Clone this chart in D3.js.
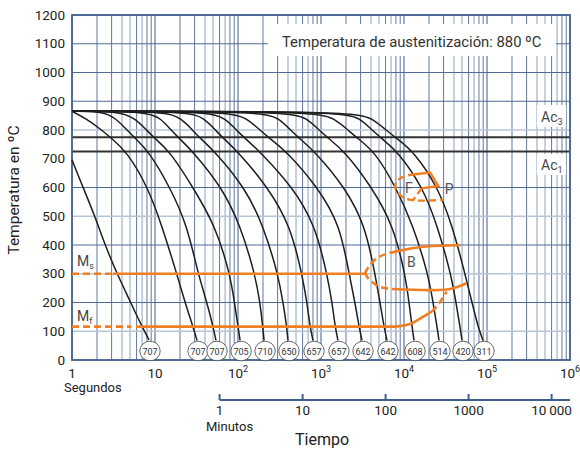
<!DOCTYPE html>
<html><head><meta charset="utf-8">
<script src="https://cdn.jsdelivr.net/npm/d3@7"></script>
<style>
body{margin:0;background:#fff}
svg{display:block}
text{font-family:Roboto,'Noto Sans',sans-serif;fill:#222}
</style>
</head><body>
<svg id="chart" width="580" height="450"></svg>
<script>
// ---------- data ----------
const yTickValues = [0,100,200,300,400,500,600,700,800,900,1000,1100,1200];
const yGridDark = [200,400,600,900,1000,1100];
const yGridLight = [100,300,500,800];
const xDecades = [1,10,100,1000,10000,100000,1000000];
const xDecadeLabels = ["1","10","10|2","10|3","10|4","10|5","10|6"];
const minuteTicks = [1,10,100,1000,10000];
const minuteLabels = ["1","10","100","1000","10\u2009000"];
const Ac3 = 775, Ac1 = 725, Ms = 300, Mf = 116;
const hardness = ["707","707","707","705","710","650","657","657","642","642","608","514","420","311"];

// first curve (already below 865 at 1 s)
const curve0Temps = [696,626,500,400,300,220,116,70];
const curve0Times = [1,1.25,1.89,2.5,3.49,4.73,6.97,8.47];

// remaining curves, all from 865 ºC, temps shared
const coolTemps = [865,840,800,775,725,600,470,300,200,116,68];
const coolTimes = [
  [1,1.47,2.28,2.87,4.6,8.24,12.0,18.3,23.0,28.7,32.1],
  [2.36,3.39,4.6,5.59,8.47,15.2,24.3,33.0,42.3,50.0,54.3],
  [3.79,5.74,7.9,9.59,15.2,28.7,52.8,80.1,90.7,100,106],
  [8.01,11.8,15.6,18.9,28.7,64.2,106,160,184,199,206],
  [13.9,20.6,28.3,33.9,52.8,121,200,303,349,386,400],
  [26.4,38.9,53.6,64.2,100,230,423,590,678,737,801],
  [46,69.7,95.9,117,184,460,847,1180,1360,1480,1600],
  [80.1,128,184,230,389,920,1690,2180,2570,2870,3120],
  [200,312,429,528,847,1950,3390,4470,5140,5740,6240],
  [423,678,946,1180,1950,4120,7370,10300,11500,12500,13200],
  [895,1430,2120,2640,4470,8010,12800,19500,22400,25000,26400],
  [1840,2950,4120,5140,8470,16900,25000,36800,42300,47300,50000],
  [2570,4120,6070,7790,13200,25700,37900,54300,66000,77900,89500]
];

// Martensite lines
const msDashTimes = [1,3.1], msSolidTimes = [3.1,3390];
const mfDashTimes = [1,5.2], mfSolidTimes = [5.9,7790];
const mfRiseTimes = [7790,11800,17100,21600], mfRiseTemps = [116,125,151,168];
const mfRiseDashTimes = [21600,27200,32700], mfRiseDashTemps = [168,202,238];
// Bainite region
const bUpperDashTimes = [3390,3680,4690,6780], bUpperDashTemps = [302,320,354,373];
const bUpperTimes = [6780,10300,17100,47300], bUpperTemps = [373,384,394,399];
const bLowerDashTimes = [3390,3680,4470,5430,7170], bLowerDashTemps = [302,285,264,252,247];
const bLowerTimes = [7170,20600,35800,56900], bLowerTemps = [247,243,247,267];
// Ferrite / pearlite region
const fSolidTimes = [13600,20600,25900,16300], fSolidTemps = [646,652,605,597];
const fInnerDashTimes = [16300,12900], fInnerDashTemps = [597,556];
const fOuterTimes = [13600,10300,8470,7790,8470,10300,13600,20600,29500], fOuterTemps = [646,640,626,605,581,562,555,555,557];

// ---------- drawing ----------
const svg = d3.select("#chart");
const L = 72, R = 570, T = 15, B = 360;
const x = d3.scaleLog().domain([1,1e6]).range([L,R]);
const y = d3.scaleLinear().domain([0,1200]).range([B,T]);
const gridDark = "#4f6a93", gridLight = "#b7c6d6", orange = "#ef7f22";

const g = svg.append("g");
// vertical grid
const minor = [];
for (let d = 0; d < 6; d++) for (let k = 2; k <= 9; k++) minor.push({v:k*Math.pow(10,d), k});
const lightK = new Set([4,5,7]);
g.selectAll(".vm").data(minor).join("line")
  .attr("x1",d=>x(d.v)).attr("x2",d=>x(d.v)).attr("y1",T).attr("y2",B)
  .attr("stroke",d=>lightK.has(d.k)?gridLight:gridDark)
  .attr("stroke-width",d=>lightK.has(d.k)?1.6:0.9);
g.selectAll(".vM").data(xDecades.slice(1,-1)).join("line")
  .attr("x1",d=>x(d)).attr("x2",d=>x(d)).attr("y1",T).attr("y2",B)
  .attr("stroke",gridDark).attr("stroke-width",1.1);
// horizontal grid
g.selectAll(".hl").data(yGridLight).join("line")
  .attr("x1",L).attr("x2",R).attr("y1",d=>y(d)).attr("y2",d=>y(d))
  .attr("stroke",gridLight).attr("stroke-width",1.6);
g.selectAll(".hd").data(yGridDark).join("line")
  .attr("x1",L).attr("x2",R).attr("y1",d=>y(d)).attr("y2",d=>y(d))
  .attr("stroke",gridDark).attr("stroke-width",1);

// white boxes (title and Ac labels)
svg.append("rect").attr("x",268).attr("y",24).attr("width",288).attr("height",32).attr("fill","#fff");
svg.append("rect").attr("x",537).attr("y",105).attr("width",29).attr("height",22).attr("fill","#fff");
svg.append("rect").attr("x",537).attr("y",154).attr("width",29).attr("height",21).attr("fill","#fff");

// Ac lines
[Ac3,Ac1].forEach(v=>svg.append("line").attr("x1",L).attr("x2",R).attr("y1",y(v)).attr("y2",y(v))
  .attr("stroke","#333").attr("stroke-width",2));

// frame
svg.append("rect").attr("x",L).attr("y",T).attr("width",R-L).attr("height",B-T)
  .attr("fill","none").attr("stroke","#3f5e8c").attr("stroke-width",1.8);

const line = d3.line().x(d=>x(d[0])).y(d=>y(d[1])).curve(d3.curveMonotoneX);
const lineB = d3.line().x(d=>x(d[0])).y(d=>y(d[1])).curve(d3.curveBasis);
const zip = (a,b)=>a.map((v,i)=>[v,b[i]]);

// cooling curves
const curves = [zip(curve0Times,curve0Temps)];
coolTimes.forEach(ts=>{
  const pts = zip(ts,coolTemps);
  if (ts[0] > 1) { pts.unshift([1,865]); pts.unshift([1,865]); }
  curves.push(pts);
});
svg.append("g").selectAll("path").data(curves).join("path")
  .attr("d",d=>{ const p=d.slice(); p.push(p[p.length-1]); return lineB(p); })
  .attr("fill","none").attr("stroke","#1e1e1e").attr("stroke-width",1.5);

// orange transformation lines
const og = svg.append("g").attr("fill","none").attr("stroke",orange);
function oPath(pts,dashed,w){
  og.append("path").attr("d",line(pts)).attr("stroke-width",w||2.6)
    .attr("stroke-dasharray",dashed?"7,4":null);
}
oPath(msDashTimes.map(t=>[t,Ms]),true);
oPath(msSolidTimes.map(t=>[t,Ms]),false);
oPath(mfDashTimes.map(t=>[t,Mf]),true);
oPath(mfSolidTimes.map(t=>[t,Mf]),false);
oPath(zip(mfRiseTimes,mfRiseTemps),false);
oPath(zip(mfRiseDashTimes,mfRiseDashTemps),true);
const lineCR = d3.line().x(d=>x(d[0])).y(d=>y(d[1])).curve(d3.curveCatmullRom);
function oPathC(pts,dashed,w){
  og.append("path").attr("d",lineCR(pts)).attr("stroke-width",w||2.6)
    .attr("stroke-dasharray",dashed?"7,4":null);
}
oPathC(zip(bUpperDashTimes,bUpperDashTemps),true);
oPathC(zip(bUpperTimes,bUpperTemps),false);
oPathC(zip(bLowerDashTimes,bLowerDashTemps),true);
oPathC(zip(bLowerTimes,bLowerTemps),false);
og.append("path").attr("d",d3.line().x(d=>x(d[0])).y(d=>y(d[1]))(zip(fSolidTimes,fSolidTemps))).attr("stroke-width",2.4);
oPathC(zip(fInnerDashTimes,fInnerDashTemps),true,2.4);
oPathC(zip(fOuterTimes,fOuterTemps),true,2.4);

// region labels
const lab = (tx,px,py)=>svg.append("text").attr("x",px).attr("y",py).attr("font-size",14).style("fill","#555").text(tx);
lab("F",x(10300),y(581));
lab("P",x(31000),y(576));
lab("B",x(10900),y(322));

// Ms / Mf / Ac labels
function subLabel(main,sub,px,py){
  const t = svg.append("text").attr("x",px).attr("y",py).attr("font-size",14).style("fill","#444");
  t.append("tspan").text(main);
  t.append("tspan").attr("font-size",9).attr("dy",3).text(sub);
}
subLabel("M","s",77,y(Ms)-8);
subLabel("M","f",77,y(Mf)-6);
subLabel("Ac","3",541,122);
subLabel("Ac","1",541,170);

// hardness circles
const endPts = curves.map(c=>c[c.length-1]);
const hg = svg.append("g");
hg.selectAll("ellipse").data(endPts).join("ellipse")
  .attr("cx",d=>x(d[0])+1).attr("cy",351).attr("rx",10.2).attr("ry",9.8)
  .attr("fill","#fff").attr("stroke","#444").attr("stroke-width",0.8);
hg.selectAll("text").data(endPts).join("text")
  .attr("x",d=>x(d[0])+1).attr("y",354.5).attr("text-anchor","middle")
  .attr("font-size",9).style("fill","#333").text((d,i)=>hardness[i]);

// title
svg.append("text").attr("x",282).attr("y",47).attr("font-size",14.8).style("fill","#333")
  .text("Temperatura de austenitización: 880 ºC");

// y axis labels
svg.append("g").selectAll("text").data(yTickValues).join("text")
  .attr("x",65).attr("y",d=>y(d)+4.5).attr("text-anchor","end").attr("font-size",13.5).text(d=>d);
svg.append("text").attr("transform","translate(19,190) rotate(-90)").attr("text-anchor","middle")
  .attr("font-size",15.5).text("Temperatura en ºC");

// x axis labels (seconds)
const xl = svg.append("g");
xDecades.forEach((v,i)=>{
  const parts = xDecadeLabels[i].split("|");
  const t = xl.append("text").attr("x",x(v)).attr("y",378).attr("text-anchor","middle").attr("font-size",13.5);
  t.append("tspan").text(parts[0]);
  if (parts[1]) t.append("tspan").attr("font-size",9).attr("dy",-6).text(parts[1]);
});
svg.append("text").attr("x",64).attr("y",392).attr("font-size",13).text("Segundos");

// minutes axis
const xm = v=>x(v*60);
const mg = svg.append("g");
mg.append("line").attr("x1",xm(1)).attr("x2",R).attr("y1",400).attr("y2",400).attr("stroke","#3f5e8c").attr("stroke-width",2);
mg.selectAll("line.t").data(minuteTicks).join("line").attr("class","t")
  .attr("x1",d=>xm(d)).attr("x2",d=>xm(d)).attr("y1",400).attr("y2",394)
  .attr("stroke","#3f5e8c").attr("stroke-width",2);
mg.selectAll("text").data(minuteTicks).join("text")
  .attr("x",d=>xm(d)).attr("y",415).attr("text-anchor","middle").attr("font-size",13.5)
  .text((d,i)=>minuteLabels[i]);
svg.append("text").attr("x",206).attr("y",431).attr("font-size",13).text("Minutos");
svg.append("text").attr("x",322).attr("y",445).attr("text-anchor","middle").attr("font-size",16).text("Tiempo");
</script>
</body></html>
